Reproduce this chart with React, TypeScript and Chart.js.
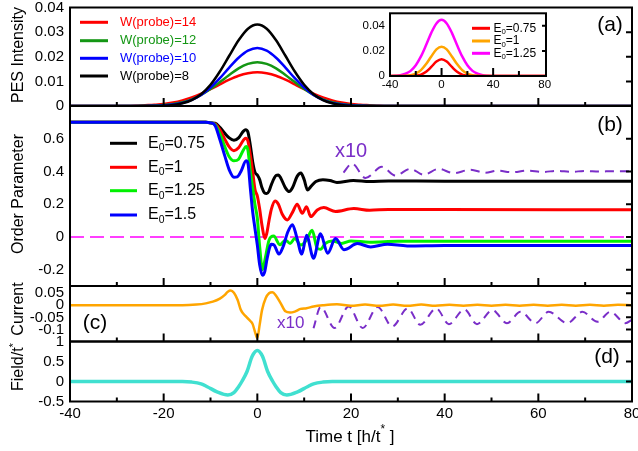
import React, { useEffect, useRef } from "react";
import { Chart, registerables } from "chart.js";

Chart.register(...registerables);

// ---------------- data ----------------
// (a) PES intensity vs time for different probe widths
const tPES = [-40, -28, -26, -24, -22, -20, -18, -16, -14, -12, -10, -8, -6, -4, -2, 0, 2, 4, 6, 8, 10, 12, 14, 16, 18, 20, 22, 24, 26, 28, 80];
const pesW14 = [0, 0, 0.0001, 0.0003, 0.0005, 0.0008, 0.0014, 0.0023, 0.0035, 0.005, 0.0068, 0.0088, 0.0107, 0.0123, 0.0133, 0.0137, 0.0133, 0.0123, 0.0107, 0.0088, 0.0068, 0.005, 0.0035, 0.0023, 0.0014, 0.0008, 0.0005, 0.0003, 0.0001, 0, 0];
const pesW12 = [0, 0, 0, 0.0001, 0.0002, 0.0004, 0.0008, 0.0015, 0.0027, 0.0045, 0.0069, 0.0097, 0.0126, 0.0153, 0.0171, 0.0178, 0.0171, 0.0153, 0.0126, 0.0097, 0.0069, 0.0045, 0.0027, 0.0015, 0.0008, 0.0004, 0.0002, 0.0001, 0, 0, 0];
const pesW10 = [0, 0, 0, 0, 0.0001, 0.0002, 0.0006, 0.0012, 0.0025, 0.0045, 0.0075, 0.0113, 0.0156, 0.0196, 0.0225, 0.0236, 0.0225, 0.0196, 0.0156, 0.0113, 0.0075, 0.0045, 0.0025, 0.0012, 0.0006, 0.0002, 0.0001, 0, 0, 0, 0];
const pesW8 = [0, 0, 0, 0, 0, 0.0001, 0.0004, 0.0011, 0.0024, 0.0048, 0.0086, 0.014, 0.0204, 0.0267, 0.0314, 0.0331, 0.0314, 0.0267, 0.0204, 0.014, 0.0086, 0.0048, 0.0024, 0.0011, 0.0004, 0.0001, 0, 0, 0, 0, 0];

// (a) inset: PES for different field strengths
const tInset = [-40, -36, -32, -28, -24, -20, -16, -12, -8, -4, 0, 4, 8, 12, 16, 20, 24, 28, 32, 36, 40, 81];
const insE075 = [0, 0, 0, 0, 0, 0.0003, 0.0011, 0.0034, 0.0072, 0.0115, 0.0134, 0.0115, 0.0072, 0.0034, 0.0011, 0.0003, 0, 0, 0, 0, 0, 0];
const insE1 = [0, 0, 0, 0.0002, 0.0006, 0.0019, 0.0047, 0.0095, 0.0156, 0.0212, 0.0234, 0.0212, 0.0156, 0.0095, 0.0047, 0.0019, 0.0006, 0.0002, 0, 0, 0, 0];
const insE125 = [0, 0.0002, 0.0006, 0.0018, 0.0041, 0.0086, 0.0156, 0.0247, 0.0344, 0.0419, 0.0448, 0.0419, 0.0344, 0.0247, 0.0156, 0.0086, 0.0041, 0.0018, 0.0006, 0.0002, 0, 0];

// (b) order parameter
const tOP075 = [-40, -11, -10, -9, -8, -7, -6, -5, -4, -3, -2.5, -2, -1.5, -1, -0.5, 0, 0.5, 1, 1.5, 2, 2.5, 3, 4, 4.5, 5, 6, 6.8, 7.5, 8.5, 9.3, 10, 10.7, 11.5, 12.5, 14, 15.5, 17, 20.5, 24, 28, 40, 80];
const op075 = [0.7, 0.7, 0.697, 0.695, 0.67, 0.635, 0.605, 0.59, 0.605, 0.645, 0.655, 0.64, 0.56, 0.46, 0.395, 0.378, 0.35, 0.3, 0.27, 0.265, 0.28, 0.32, 0.375, 0.378, 0.36, 0.3, 0.277, 0.3, 0.37, 0.39, 0.35, 0.287, 0.31, 0.338, 0.35, 0.345, 0.333, 0.345, 0.338, 0.342, 0.34, 0.34];
const tOP1 = [-40, -11, -10, -9, -8, -7, -6, -5, -4, -3, -2.5, -2, -1.5, -1, -0.5, 0, 0.5, 1, 1.6, 2, 2.5, 3, 3.8, 4.5, 5.3, 6.4, 7.5, 8.5, 9.6, 10.5, 11.4, 12.8, 14.2, 16.7, 20.6, 24, 28, 40, 80];
const op1 = [0.7, 0.7, 0.697, 0.69, 0.655, 0.6, 0.55, 0.527, 0.545, 0.59, 0.603, 0.585, 0.5, 0.4, 0.29, 0.25, 0.17, 0.07, -0.01, 0.02, 0.1, 0.17, 0.22, 0.2, 0.14, 0.104, 0.15, 0.2, 0.144, 0.185, 0.124, 0.165, 0.179, 0.155, 0.173, 0.163, 0.168, 0.167, 0.166];
const tOP125 = [-40, -11, -10, -9, -8, -7, -6, -5, -4, -3, -2.4, -2, -1.5, -1, -0.5, 0, 0.5, 1.1, 1.7, 2.5, 3.5, 4.8, 6, 7, 8, 9.3, 10.5, 11.7, 12.8, 13.5, 14.5, 16, 18, 20, 24, 30, 40, 80];
const op125 = [0.7, 0.7, 0.697, 0.685, 0.63, 0.555, 0.49, 0.465, 0.475, 0.53, 0.552, 0.53, 0.4, 0.3, 0.196, 0.114, -0.06, -0.2, -0.13, -0.02, 0.005, -0.048, -0.02, -0.04, -0.01, -0.05, -0.02, 0.04, -0.07, -0.075, -0.04, -0.025, -0.04, -0.025, -0.032, -0.027, -0.027, -0.027];
const tOP15 = [-40, -11, -10, -9, -8, -7, -6, -5, -4.3, -3.5, -2.4, -2, -1.5, -1, -0.5, 0, 0.5, 1.1, 1.6, 2.1, 3, 3.6, 4.6, 5.5, 6.5, 7.5, 8.4, 9.5, 10.5, 12, 13.5, 15, 16.7, 18.5, 21.4, 24.2, 27.8, 32, 40, 80];
const op15 = [0.7, 0.7, 0.697, 0.68, 0.595, 0.5, 0.41, 0.365, 0.367, 0.4, 0.465, 0.45, 0.3, 0.155, 0.05, -0.05, -0.17, -0.235, -0.21, -0.13, -0.045, -0.05, -0.105, -0.06, 0.03, 0.075, 0, -0.105, 0.01, -0.13, 0.02, -0.1, -0.01, -0.078, -0.041, -0.061, -0.045, -0.055, -0.052, -0.052];
const tOPx10 = [18.4, 20.2, 23.1, 26.6, 29.5, 32.7, 35.5, 38.7, 41.9, 45.5, 48.7, 51.2, 54.4, 57.6, 61, 64, 67, 70, 73, 76, 80];
const opX10 = [0.393, 0.448, 0.36, 0.428, 0.375, 0.416, 0.38, 0.416, 0.39, 0.41, 0.392, 0.405, 0.395, 0.405, 0.397, 0.404, 0.398, 0.403, 0.399, 0.402, 0.401];
const tZero = [-40, 80];
const zeroLine = [0, 0];

// (c) current
const tCur = [-40, -16, -13, -11, -9.5, -8, -7, -6.3, -5.7, -5, -4.2, -3.5, -2.5, -1.5, -1, -0.5, 0, 0.5, 1, 1.8, 2.5, 3.2, 4, 5, 6, 7, 8, 9.2, 10.5, 12, 14, 17, 20, 23, 26, 29, 32, 35, 38, 41, 44, 47, 50, 53, 56, 59, 62, 65, 68, 71, 74, 77, 80];
const current = [0, 0, 0.003, 0.008, 0.015, 0.028, 0.042, 0.056, 0.061, 0.052, 0.022, -0.02, -0.045, -0.065, -0.078, -0.11, -0.136, -0.08, -0.02, 0.03, 0.05, 0.054, 0.04, 0.008, -0.025, -0.03, -0.026, -0.015, -0.012, -0.005, 0, 0.004, -0.002, 0.003, -0.002, 0.003, -0.002, 0.003, -0.002, 0.002, -0.002, 0.002, -0.002, 0.002, -0.002, 0.002, -0.002, 0.002, -0.002, 0.002, -0.002, 0.002, 0];
const tCurX10 = [12, 13.5, 16.5, 19.5, 22.5, 25.7, 28.8, 32.1, 34.8, 38.2, 40.9, 44.2, 46.9, 50.2, 53.3, 56.2, 59.4, 62.2, 66.2, 69.4, 72.6, 75.4, 78.6, 80];
const curX10 = [-0.095, -0.007, -0.094, -0.005, -0.094, -0.007, -0.088, -0.013, -0.081, -0.013, -0.078, -0.017, -0.078, -0.02, -0.074, -0.027, -0.074, -0.027, -0.074, -0.027, -0.068, -0.027, -0.074, -0.06];

// (d) field
const tField = [-40, -16, -14, -12, -10.7, -8.6, -6.3, -5, -4, -3.3, -2.2, -1.1, 0, 1.1, 2.2, 3.3, 4, 5, 6.3, 8.6, 10.7, 12, 14, 16, 80];
const field = [0, 0, -0.015, -0.06, -0.13, -0.26, -0.34, -0.28, -0.13, 0, 0.25, 0.63, 0.775, 0.63, 0.25, 0, -0.13, -0.28, -0.34, -0.26, -0.13, -0.06, -0.015, 0, 0];

// ticks
const xLabelTicks = [-40, -20, 0, 20, 40, 60, 80];
const xMinorTicks = [-30, -10, 10, 30, 50, 70];
const xMajorTicks = [-20, 0, 20, 40, 60];
const yTicksA = [0, 0.01, 0.02, 0.03, 0.04];
const yTicksB = [-0.2, 0, 0.2, 0.4, 0.6];
const yTicksC = [-0.1, -0.05, 0, 0.05];
const yTicksD = [-0.5, 0, 0.5, 1];
const insetXTicks = [-40, 0, 40, 80];
const insetMinor = [-20, 20, 60];
const insetMajor = [0, 40];
const insetYTicks = [0, 0.02, 0.04];

// labels
const pesLabels = ["W(probe)=14", "W(probe)=12", "W(probe)=10", "W(probe)=8"];
const opLabels = ["0.75", "1", "1.25", "1.5"];
const insetLabels = ["0.75", "1", "1.25"];

// ---------------- styles ----------------
const FONT = "'Liberation Sans', Arial, Helvetica, sans-serif";
const RED = "#ff0000";
const DGREEN = "#149614";
const LIME = "#00f000";
const BLUE = "#0000ff";
const BLACK = "#000000";
const ORANGE = "#ffa500";
const MAGENTA = "#ff00ff";
const PURPLE = "#7a2ec8";
const CYAN = "#40e0d0";

type Part = { t: string; s?: number; dy?: number };
type TextItem = { parts: Part[]; x: number; y: number; size: number; color?: string; align?: "left" | "center"; rot?: number };
type LegendItem = { color: string; parts: Part[]; x1: number; x2: number; tx: number; y: number; size: number; textColor: string; lw: number };
type FrameSpec = { xMinor: number[]; xMajor: number[]; yRight: number[]; minorLen: number; majorLen: number; rightLen: number };

function drawRich(ctx: CanvasRenderingContext2D, it: TextItem, ox: number, oy: number) {
  ctx.save();
  ctx.translate(it.x - ox, it.y - oy);
  if (it.rot) ctx.rotate(it.rot);
  ctx.fillStyle = it.color ?? "#000";
  ctx.textBaseline = "middle";
  ctx.textAlign = "left";
  const widths = it.parts.map((p) => {
    ctx.font = `${it.size * (p.s ?? 1)}px ${FONT}`;
    return ctx.measureText(p.t).width;
  });
  const total = widths.reduce((a, b) => a + b, 0);
  let cx = (it.align ?? "left") === "center" ? -total / 2 : 0;
  it.parts.forEach((p, i) => {
    ctx.font = `${it.size * (p.s ?? 1)}px ${FONT}`;
    ctx.fillText(p.t, cx, (p.dy ?? 0) * it.size);
    cx += widths[i];
  });
  ctx.restore();
}

function decor(ox: number, oy: number, frame: FrameSpec, texts: TextItem[], legend: LegendItem[], fillWhite = false) {
  return {
    id: "decor",
    beforeDatasetsDraw(chart: any) {
      if (!fillWhite) return;
      const a = chart.chartArea;
      const ctx = chart.ctx;
      ctx.save();
      ctx.fillStyle = "#fff";
      ctx.fillRect(a.left, a.top, a.right - a.left, a.bottom - a.top);
      ctx.restore();
    },
    afterDatasetsDraw(chart: any) {
      const { left, right, top, bottom } = chart.chartArea;
      const xs = chart.scales.x;
      const ys = chart.scales.y;
      const ctx = chart.ctx;
      ctx.save();
      ctx.strokeStyle = "#000";
      ctx.lineWidth = 2;
      ctx.beginPath();
      frame.xMinor.forEach((v) => {
        const p = xs.getPixelForValue(v);
        ctx.moveTo(p, bottom);
        ctx.lineTo(p, bottom - frame.minorLen);
      });
      frame.xMajor.forEach((v) => {
        const p = xs.getPixelForValue(v);
        ctx.moveTo(p, bottom);
        ctx.lineTo(p, bottom - frame.majorLen);
      });
      frame.yRight.forEach((v) => {
        const p = ys.getPixelForValue(v);
        ctx.moveTo(right, p);
        ctx.lineTo(right - frame.rightLen, p);
      });
      ctx.stroke();
      ctx.strokeRect(left, top, right - left, bottom - top);
      ctx.restore();
    },
    afterDraw(chart: any) {
      const ctx = chart.ctx as CanvasRenderingContext2D;
      legend.forEach((l) => {
        ctx.save();
        ctx.strokeStyle = l.color;
        ctx.lineWidth = l.lw;
        ctx.beginPath();
        ctx.moveTo(l.x1 - ox, l.y - oy);
        ctx.lineTo(l.x2 - ox, l.y - oy);
        ctx.stroke();
        ctx.restore();
        drawRich(ctx, { parts: l.parts, x: l.tx, y: l.y, size: l.size, color: l.textColor }, ox, oy);
      });
      texts.forEach((t) => drawRich(ctx, t, ox, oy));
    },
  };
}

const pts = (t: number[], v: number[]) => t.map((x, i) => ({ x, y: v[i] }));

function line(t: number[], v: number[], color: string, width: number, order: number, dash: number[] = []) {
  return {
    data: pts(t, v),
    borderColor: color,
    backgroundColor: color,
    borderWidth: width,
    borderDash: dash,
    pointRadius: 0,
    fill: false,
    order,
    cubicInterpolationMode: "monotone",
    borderCapStyle: "butt",
    borderJoinStyle: "round",
  };
}

type PanelOpts = {
  datasets: any[];
  xMin: number;
  xMax: number;
  yMin: number;
  yMax: number;
  yTicks: number[];
  pad: { left: number; right: number; top: number; bottom: number };
  yWidth: number;
  tickSize: number;
  yTickPad: number;
  showX: boolean;
  xTicks?: number[];
  xHeight?: number;
  xTickPad?: number;
  plugin: any;
};

function panelConfig(o: PanelOpts): any {
  return {
    type: "line",
    data: { datasets: o.datasets },
    plugins: [o.plugin],
    options: {
      responsive: false,
      maintainAspectRatio: false,
      animation: false,
      devicePixelRatio: 1,
      events: [],
      layout: { padding: o.pad, autoPadding: false },
      plugins: { legend: { display: false }, tooltip: { enabled: false }, title: { display: false } },
      scales: {
        x: {
          type: "linear",
          min: o.xMin,
          max: o.xMax,
          display: o.showX,
          grid: { display: false, drawTicks: false },
          border: { display: false },
          ticks: {
            font: { family: FONT, size: o.tickSize },
            color: "#000",
            padding: o.xTickPad ?? 3,
            maxRotation: 0,
            autoSkip: false,
            callback: (v: number) => String(v),
          },
          afterBuildTicks: (s: any) => {
            if (o.xTicks) s.ticks = o.xTicks.map((v) => ({ value: v }));
          },
          afterFit: (s: any) => {
            if (o.xHeight !== undefined) s.height = o.xHeight;
            s.paddingLeft = 0;
            s.paddingRight = 0;
            s.paddingTop = 0;
            s.paddingBottom = 0;
          },
        },
        y: {
          type: "linear",
          min: o.yMin,
          max: o.yMax,
          grid: { display: false, drawTicks: false },
          border: { display: false },
          ticks: {
            font: { family: FONT, size: o.tickSize },
            color: "#000",
            padding: o.yTickPad,
            autoSkip: false,
            callback: (v: number) => String(v),
          },
          afterBuildTicks: (s: any) => {
            s.ticks = o.yTicks.map((v) => ({ value: v }));
          },
          afterFit: (s: any) => {
            s.width = o.yWidth;
            s.paddingLeft = 0;
            s.paddingRight = 0;
            s.paddingTop = 0;
            s.paddingBottom = 0;
          },
        },
      },
    },
  };
}

const E0 = (val: string): Part[] => [{ t: "E" }, { t: "0", s: 0.65, dy: 0.32 }, { t: "=" + val }];

// layout (page px)
const PW = 638;
const PLOT_L = 70;
const PLOT_R = 632;
const CAN_A = { top: 0, h: 116 };
const CAN_B = { top: 96, h: 200 };
const CAN_C = { top: 278, h: 72 };
const CAN_D = { top: 333, h: 118 };
const CAN_I = { left: 340, top: 0, w: 212, h: 100 };

export default function App() {
  const refA = useRef<HTMLCanvasElement>(null);
  const refI = useRef<HTMLCanvasElement>(null);
  const refB = useRef<HTMLCanvasElement>(null);
  const refC = useRef<HTMLCanvasElement>(null);
  const refD = useRef<HTMLCanvasElement>(null);

  useEffect(() => {
    const charts: Chart[] = [];
    const mainFrame = (yRight: number[]): FrameSpec => ({ xMinor: xMinorTicks, xMajor: xMajorTicks, yRight, minorLen: 4, majorLen: 8, rightLen: 6 });
    const rightPad = PW - PLOT_R;

    // ---- panel (a)
    const pesColors = [RED, DGREEN, BLUE, BLACK];
    const legA: LegendItem[] = pesLabels.map((lab, i) => ({
      color: pesColors[i], parts: [{ t: lab }], x1: 80, x2: 108, tx: 120, y: [22.3, 40.7, 58.3, 76][i], size: 13, textColor: pesColors[i], lw: 3,
    }));
    charts.push(
      new Chart(refA.current!, panelConfig({
        datasets: [
          line(tPES, pesW14, RED, 2.5, 4),
          line(tPES, pesW12, DGREEN, 2.5, 3),
          line(tPES, pesW10, BLUE, 2.5, 2),
          line(tPES, pesW8, BLACK, 2.5, 1),
        ],
        xMin: -40, xMax: 80, yMin: 0, yMax: 0.04, yTicks: yTicksA,
        pad: { left: 0, right: rightPad, top: 7.5, bottom: CAN_A.h - 106 },
        yWidth: PLOT_L, tickSize: 15, yTickPad: 6, showX: false,
        plugin: decor(0, CAN_A.top, mainFrame([0.01, 0.02, 0.03]), [
          { parts: [{ t: "PES Intensity" }], x: 19, y: 55, size: 16, align: "center", rot: -Math.PI / 2 },
          { parts: [{ t: "(a)" }], x: 610, y: 25, size: 21, align: "center" },
        ], legA),
      }))
    );

    // ---- inset
    const insColors = [RED, ORANGE, MAGENTA];
    const legI: LegendItem[] = insetLabels.map((lab, i) => ({
      color: insColors[i], parts: E0(lab), x1: 472, x2: 490, tx: 493.5, y: [28.3, 41, 53.3][i], size: 12, textColor: "#000", lw: 3,
    }));
    charts.push(
      new Chart(refI.current!, panelConfig({
        datasets: [
          line(tInset, insE075, RED, 2.5, 1),
          line(tInset, insE1, ORANGE, 2.5, 2),
          line(tInset, insE125, MAGENTA, 2.5, 3),
        ],
        xMin: -40, xMax: 81, yMin: 0, yMax: 0.05, yTicks: insetYTicks,
        pad: { left: 0, right: CAN_I.w - (546 - CAN_I.left), top: 13.3, bottom: 4 },
        yWidth: 390 - CAN_I.left, tickSize: 11.5, yTickPad: 5, showX: true, xTicks: insetXTicks, xHeight: 20, xTickPad: 2,
        plugin: decor(CAN_I.left, CAN_I.top, { xMinor: insetMinor, xMajor: insetMajor, yRight: [0.02, 0.04], minorLen: 5, majorLen: 8, rightLen: 4 }, [], legI, true),
      }))
    );

    // ---- panel (b)
    const opColors = [BLACK, RED, LIME, BLUE];
    const legB: LegendItem[] = opLabels.map((lab, i) => ({
      color: opColors[i], parts: E0(lab), x1: 110, x2: 137, tx: 148, y: [143.3, 167.3, 190.7, 215][i], size: 16, textColor: "#000", lw: 3,
    }));
    charts.push(
      new Chart(refB.current!, panelConfig({
        datasets: [
          line(tZero, zeroLine, MAGENTA, 1.5, 6, [14, 6]),
          line(tOPx10, opX10, PURPLE, 2, 5, [9, 6]),
          line(tOP075, op075, BLACK, 3, 4),
          line(tOP1, op1, RED, 3, 3),
          line(tOP125, op125, LIME, 3, 2),
          line(tOP15, op15, BLUE, 3, 1),
        ],
        xMin: -40, xMax: 80, yMin: -0.3, yMax: 0.8, yTicks: yTicksB,
        pad: { left: 0, right: rightPad, top: 106 - CAN_B.top, bottom: CAN_B.top + CAN_B.h - 286 },
        yWidth: PLOT_L, tickSize: 15, yTickPad: 6, showX: false,
        plugin: decor(0, CAN_B.top, mainFrame(yTicksB), [
          { parts: [{ t: "Order Parameter" }], x: 19, y: 194, size: 16, align: "center", rot: -Math.PI / 2 },
          { parts: [{ t: "(b)" }], x: 610, y: 125, size: 21, align: "center" },
          { parts: [{ t: "x10" }], x: 335, y: 151, size: 20, color: PURPLE },
        ], legB),
      }))
    );

    // ---- panel (c)
    charts.push(
      new Chart(refC.current!, panelConfig({
        datasets: [
          line(tCurX10, curX10, PURPLE, 2, 2, [8, 6]),
          line(tCur, current, ORANGE, 2.5, 1),
        ],
        xMin: -40, xMax: 80, yMin: -0.15, yMax: 0.08, yTicks: yTicksC,
        pad: { left: 0, right: rightPad, top: 286 - CAN_C.top, bottom: CAN_C.top + CAN_C.h - 341.5 },
        yWidth: PLOT_L, tickSize: 15, yTickPad: 6, showX: false,
        plugin: decor(0, CAN_C.top, mainFrame([-0.1, -0.05, 0, 0.05]), [
          { parts: [{ t: "Current" }], x: 19, y: 309, size: 16, align: "center", rot: -Math.PI / 2 },
          { parts: [{ t: "(c)" }], x: 95, y: 323, size: 21, align: "center" },
          { parts: [{ t: "x10" }], x: 277, y: 323.5, size: 17, color: PURPLE },
        ], []),
      }))
    );

    // ---- panel (d)
    charts.push(
      new Chart(refD.current!, panelConfig({
        datasets: [line(tField, field, CYAN, 3.5, 1)],
        xMin: -40, xMax: 80, yMin: -0.5, yMax: 1, yTicks: yTicksD,
        pad: { left: 0, right: rightPad, top: 341.5 - CAN_D.top, bottom: 0 },
        yWidth: PLOT_L, tickSize: 15, yTickPad: 6, showX: true, xTicks: xLabelTicks, xHeight: CAN_D.top + CAN_D.h - 401.5, xTickPad: 3,
        plugin: decor(0, CAN_D.top, mainFrame([0, 0.5]), [
          { parts: [{ t: "Field/t" }, { t: "*", s: 0.7, dy: -0.3 }], x: 19, y: 367, size: 16, align: "center", rot: -Math.PI / 2 },
          { parts: [{ t: "(d)" }], x: 607, y: 357, size: 21, align: "center" },
          { parts: [{ t: "Time t [h/t" }, { t: "*", s: 0.7, dy: -0.45 }, { t: " ]" }], x: 350, y: 437, size: 17, align: "center" },
        ], []),
      }))
    );

    return () => charts.forEach((c) => c.destroy());
  }, []);

  const cs = (left: number, top: number, w: number, h: number): React.CSSProperties => ({
    position: "absolute", left, top, width: w, height: h, display: "block",
  });

  return (
    <div style={{ position: "absolute", left: 0, top: 0, width: PW, height: 451, background: "#fff", overflow: "hidden" }}>
      <canvas ref={refA} width={PW} height={CAN_A.h} style={cs(0, CAN_A.top, PW, CAN_A.h)} />
      <canvas ref={refI} width={CAN_I.w} height={CAN_I.h} style={cs(CAN_I.left, CAN_I.top, CAN_I.w, CAN_I.h)} />
      <canvas ref={refB} width={PW} height={CAN_B.h} style={cs(0, CAN_B.top, PW, CAN_B.h)} />
      <canvas ref={refC} width={PW} height={CAN_C.h} style={cs(0, CAN_C.top, PW, CAN_C.h)} />
      <canvas ref={refD} width={PW} height={CAN_D.h} style={cs(0, CAN_D.top, PW, CAN_D.h)} />
    </div>
  );
}
